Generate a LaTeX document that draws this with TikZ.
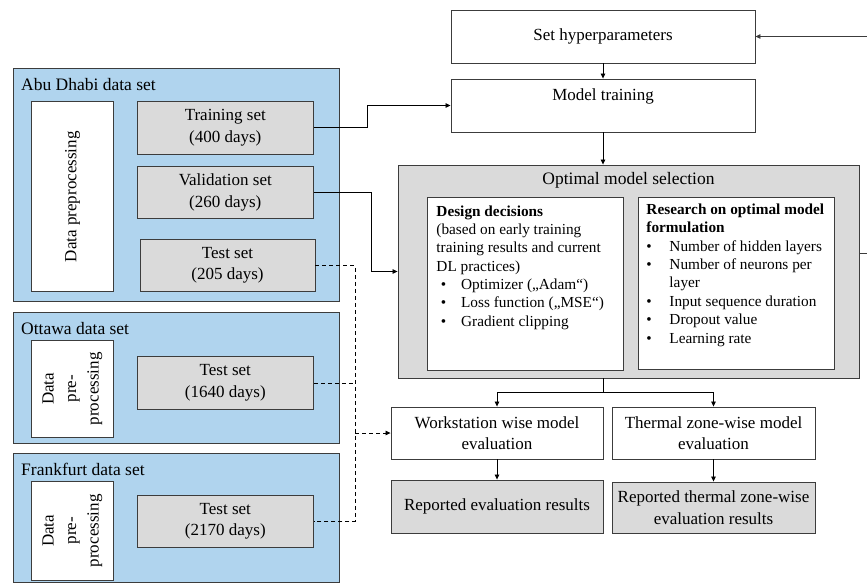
\documentclass[tikz,border=0pt]{standalone}
\usepackage{fontspec}
\setmainfont{Liberation Serif}
\usetikzlibrary{arrows.meta,calc}
\definecolor{panelblue}{RGB}{176,212,238}
\definecolor{boxgray}{RGB}{218,218,218}
\definecolor{edgecol}{RGB}{60,60,60}
\newcommand\mainfs{\fontsize{17}{21.5}\selectfont}
\newcommand\listfs{\fontsize{15.3}{18.35}\selectfont}
\newcommand\titlefs{\fontsize{17.5}{21}\selectfont}
\begin{document}
\begin{tikzpicture}[x=1pt,y=-1pt,
 box/.style={draw=edgecol, line width=0.9pt, fill=white, font=\mainfs, align=center, inner sep=0pt},
 graybox/.style={box, fill=boxgray},
 panel/.style={draw=edgecol, line width=0.9pt, fill=panelblue, inner sep=0pt, anchor=north west},
 paneltitle/.style={font=\titlefs, anchor=base west, inner sep=0pt},
 arr/.style={-{Triangle[length=5pt,width=4.5pt]}, line width=0.8pt},
 plain/.style={line width=0.8pt},
 dsh/.style={line width=0.8pt, dash pattern=on 4pt off 3pt}
]
\useasboundingbox (0,0) rectangle (867,582);

% ---------- left panels ----------
\node[panel, minimum width=326pt, minimum height=233pt] (abu) at (13,68) {};
\node[paneltitle] (abut) at (21,90.5) {Abu Dhabi data set};
\node[box, rotate=90, minimum width=190pt, minimum height=81.6pt] (pre1) at (72.5,196.7) {Data preprocessing};
\node[graybox, minimum width=176pt, minimum height=52.3pt] (trs) at (225.3,127.8) {Training set\\(400 days)};
\node[graybox, minimum width=176pt, minimum height=52.3pt] (vals) at (225.3,192.2) {Validation set\\(260 days)};
\node[graybox, minimum width=175pt, minimum height=52.4pt] (tests1) at (227.5,265.5) {Test set\\(205 days)};

\node[panel, minimum width=326pt, minimum height=131pt] (ott) at (13,311.7) {};
\node[paneltitle] (ottt) at (21,334) {Ottawa data set};
\node[box, rotate=90, minimum width=97.7pt, minimum height=81.6pt, font=\fontsize{17}{22.5}\selectfont] (pre2) at (72.5,388.8) {Data\\pre-\\processing};
\node[graybox, minimum width=176pt, minimum height=52.6pt] (tests2) at (225.3,383) {Test set\\(1640 days)};

\node[panel, minimum width=326pt, minimum height=128.5pt] (fra) at (13,453.3) {};
\node[paneltitle] (frat) at (21,475.7) {Frankfurt data set};
\node[box, rotate=90, minimum width=98.3pt, minimum height=81.6pt, font=\fontsize{17}{22.5}\selectfont] (pre3) at (72.5,530.8) {Data\\pre-\\processing};
\node[graybox, minimum width=176pt, minimum height=52.7pt] (tests3) at (225.3,521.3) {Test set\\(2170 days)};

% ---------- right column ----------
\node[box, minimum width=304pt, minimum height=53pt] (hyper) at (603,36.5) {Set hyperparameters};
\node[box, minimum width=304pt, minimum height=53pt] (train) at (603,105.5) {Model training\\\mbox{}};

\node[graybox, minimum width=461pt, minimum height=213pt] (opt) at (628.5,271.5) {};
\node[font=\titlefs, inner sep=0pt] (optt) at (628.5,180) {Optimal model selection};

\node[box, anchor=north west, inner xsep=9pt, inner ysep=8pt, font=\listfs, align=left] (design) at (427,197)
 {\parbox[c][157pt][t]{178pt}{%
 \textbf{Design decisions}\\
 (based on early training\\
 training results and current\\
 DL practices)\\
 \hspace*{4.3pt}\makebox[20.4pt][l]{\textbullet}Optimizer („Adam“)\\
 \hspace*{4.3pt}\makebox[20.4pt][l]{\textbullet}Loss function („MSE“)\\
 \hspace*{4.3pt}\makebox[20.4pt][l]{\textbullet}Gradient clipping}};

\node[box, anchor=north west, inner xsep=8pt, inner ysep=6.5pt, font=\listfs, align=left] (research) at (638,197)
 {\parbox[c][159pt][t]{180pt}{%
 \textbf{Research on optimal model}\\
 \textbf{formulation}\\
 \makebox[23pt][l]{\textbullet}Number of hidden layers\\
 \makebox[23pt][l]{\textbullet}Number of neurons per\\
 \hspace*{23pt}layer\\
 \makebox[23pt][l]{\textbullet}Input sequence duration\\
 \makebox[23pt][l]{\textbullet}Dropout value\\
 \makebox[23pt][l]{\textbullet}Learning rate}};

\node[box, minimum width=212pt, minimum height=52pt] (ws) at (497,433) {Workstation wise model\\evaluation};
\node[box, minimum width=203pt, minimum height=52pt] (tz) at (713.5,433) {Thermal zone-wise model\\evaluation};
\node[graybox, minimum width=212pt, minimum height=53pt] (rep1) at (497,506.5) {Reported evaluation results};
\node[graybox, minimum width=203pt, minimum height=51pt] (rep2) at (713.5,507.5) {Reported thermal zone-wise\\evaluation results};

% ---------- connectors ----------
\draw[arr] (hyper.south) -- (train.north);
\draw[arr] (train.south) -- (train.south |- opt.north);
\draw[arr] (trs.east) -- ++(53.4,0) |- (train.west);
\draw[arr] (vals.east) -- ++(57.7,0) |- (opt.west);

\coordinate (split) at (603,392.7);
\draw[plain] (train.south |- opt.south) -- (split);
\draw[arr] (split) -| (ws.north);
\draw[arr] (split) -| (tz.north);
\draw[arr] (ws.south) -- (rep1.north);
\draw[arr] (tz.south) -- (rep2.north);

\coordinate (fb) at (opt.east |- 0,253);
\coordinate (fbr) at (869,253);
\draw[arr, draw=edgecol] (fb) -- (fbr) |- (hyper.east);

\coordinate (dtop) at (355,265.5);
\coordinate (dbot) at (355,521.3);
\draw[dsh] (tests1.east) -- (dtop) -- (dbot) -- (tests3.east);
\draw[dsh] (tests2.east) -- (tests2.east -| dtop);
\draw[dsh, arr] (dtop |- ws.west) -- (ws.west);
\end{tikzpicture}
\end{document}
